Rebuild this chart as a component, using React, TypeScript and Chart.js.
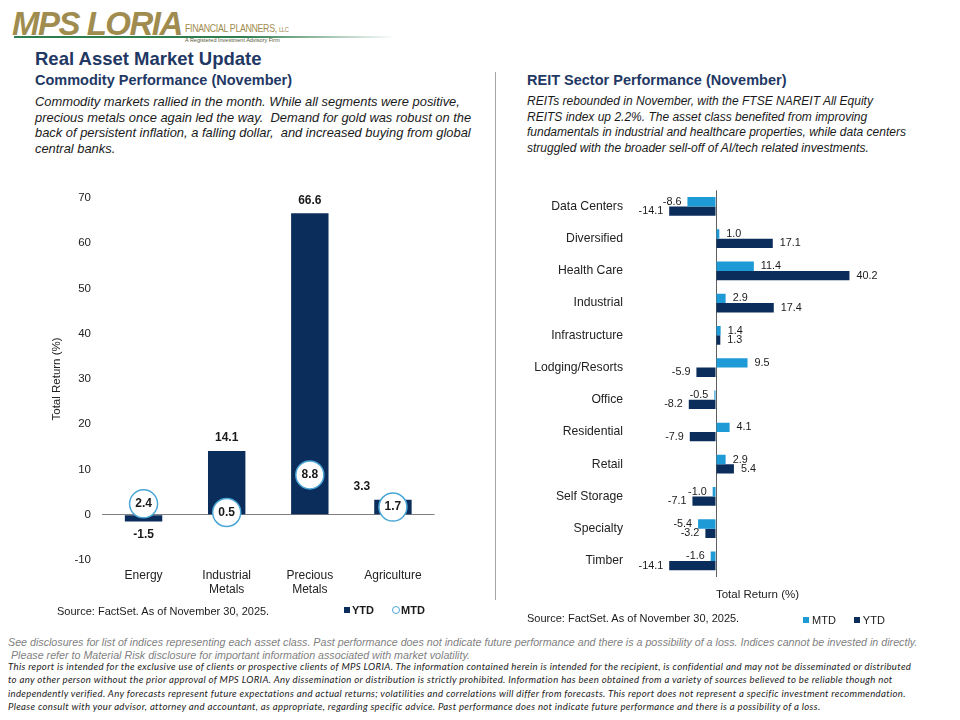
import React, { useEffect, useRef } from "react";
import { Chart, registerables } from "chart.js";

Chart.register(...registerables);

// ---------- Data ----------
const commodityCategories = [["Energy"], ["Industrial", "Metals"], ["Precious", "Metals"], ["Agriculture"]];
const commodityYTD = [-1.5, 14.1, 66.6, 3.3];
const commodityMTD = [2.4, 0.5, 8.8, 1.7];
const commodityTickMin = -10;
const commodityTickMax = 70;
const commodityTickStep = 10;

const reitCategories = [
  "Data Centers",
  "Diversified",
  "Health Care",
  "Industrial",
  "Infrastructure",
  "Lodging/Resorts",
  "Office",
  "Residential",
  "Retail",
  "Self Storage",
  "Specialty",
  "Timber",
];
const reitMTD = [-8.6, 1.0, 11.4, 2.9, 1.4, 9.5, -0.5, 4.1, 2.9, -1.0, -5.4, -1.6];
const reitYTD = [-14.1, 17.1, 40.2, 17.4, 1.3, -5.9, -8.2, -7.9, 5.4, -7.1, -3.2, -14.1];
const reitAxisMin = -25;
const reitAxisMax = 50;

// ---------- Styles ----------
const NAVY = "#0B2D5B";
const LIGHT = "#1E9AD6";
const CIRCLE = "#4AA6D6";
const TITLE = "#1F3864";
const FONT = "'Liberation Sans', Arial, sans-serif";

const commodityLabelPlugin = {
  id: "commodityLabels",
  afterDatasetsDraw(chart: any) {
    const ctx = chart.ctx;
    const bars = chart.getDatasetMeta(0).data;
    const pts = chart.getDatasetMeta(1).data;
    ctx.save();
    ctx.textAlign = "center";
    ctx.textBaseline = "middle";
    ctx.fillStyle = "#1a1a1a";
    ctx.font = `bold 12px ${FONT}`;
    bars.forEach((bar: any, i: number) => {
      const v = commodityYTD[i];
      const y = v >= 0 ? bar.y - 13 : bar.y + 13;
      let x = bar.x;
      if (Math.abs(y - pts[i].y) < 24) x -= 31;
      ctx.fillText(v.toFixed(1), x, y);
    });
    pts.forEach((p: any, i: number) => {
      ctx.fillText(commodityMTD[i].toFixed(1), p.x, p.y);
    });
    ctx.restore();
  },
};

const reitLabelPlugin = {
  id: "reitLabels",
  afterDatasetsDraw(chart: any) {
    const ctx = chart.ctx;
    ctx.save();
    ctx.textBaseline = "middle";
    ctx.fillStyle = "#1a1a1a";
    ctx.font = `10.8px ${FONT}`;
    [reitMTD, reitYTD].forEach((vals, di) => {
      chart.getDatasetMeta(di).data.forEach((bar: any, i: number) => {
        const v = vals[i];
        if (v >= 0) {
          ctx.textAlign = "left";
          ctx.fillText(v.toFixed(1), bar.x + 7, bar.y);
        } else {
          ctx.textAlign = "right";
          ctx.fillText(v.toFixed(1), bar.x - 6, bar.y);
        }
      });
    });
    ctx.restore();
  },
};

function CommodityChart() {
  const ref = useRef<HTMLCanvasElement>(null);
  useEffect(() => {
    const chart = new Chart(ref.current as HTMLCanvasElement, {
      type: "bar",
      data: {
        labels: commodityCategories as any,
        datasets: [
          {
            type: "bar",
            label: "YTD",
            data: commodityYTD,
            backgroundColor: NAVY,
            barPercentage: 0.9,
            categoryPercentage: 0.5,
            order: 1,
          } as any,
          {
            type: "line",
            label: "MTD",
            data: commodityMTD,
            showLine: false,
            pointRadius: 14,
            pointHoverRadius: 14,
            pointBackgroundColor: "#ffffff",
            pointBorderColor: CIRCLE,
            pointBorderWidth: 1.5,
            order: 0,
          } as any,
        ],
      },
      options: {
        animation: false,
        responsive: false,
        maintainAspectRatio: false,
        layout: { padding: { top: 17, right: 10, left: 0, bottom: 0 } },
        plugins: { legend: { display: false }, tooltip: { enabled: false } },
        scales: {
          x: {
            grid: { display: false, drawTicks: false },
            border: { display: false },
            ticks: { color: "#222", font: { family: FONT, size: 12 }, padding: 8, maxRotation: 0 },
            afterFit: (s: any) => {
              s.height = 45;
            },
          },
          y: {
            min: commodityTickMin,
            max: commodityTickMax,
            ticks: { stepSize: commodityTickStep, color: "#222", font: { family: FONT, size: 11.5 }, padding: 11 },
            grid: {
              drawTicks: false,
              color: (c: any) => (c.tick && c.tick.value === 0 ? "#7f7f7f" : "rgba(0,0,0,0)"),
              lineWidth: 1,
            },
            border: { display: false },
            title: {
              display: true,
              text: "Total Return (%)",
              color: "#222",
              font: { family: FONT, size: 11.5 },
              padding: { top: 10, bottom: 0 },
            },
            afterFit: (s: any) => {
              s.width = 62;
            },
          },
        },
      },
      plugins: [commodityLabelPlugin],
    });
    return () => chart.destroy();
  }, []);
  return <canvas ref={ref} width={410} height={425} style={{ position: "absolute", left: 40, top: 180, width: 410, height: 425 }} />;
}

function ReitChart() {
  const ref = useRef<HTMLCanvasElement>(null);
  useEffect(() => {
    const chart = new Chart(ref.current as HTMLCanvasElement, {
      type: "bar",
      data: {
        labels: reitCategories,
        datasets: [
          { label: "MTD", data: reitMTD, backgroundColor: LIGHT, barPercentage: 1.0, categoryPercentage: 0.58 },
          { label: "YTD", data: reitYTD, backgroundColor: NAVY, barPercentage: 1.0, categoryPercentage: 0.58 },
        ],
      },
      options: {
        indexAxis: "y",
        animation: false,
        responsive: false,
        maintainAspectRatio: false,
        layout: { padding: { top: 4, right: 18, left: 0, bottom: 0 } },
        plugins: { legend: { display: false }, tooltip: { enabled: false } },
        scales: {
          x: {
            min: reitAxisMin,
            max: reitAxisMax,
            ticks: { display: false, stepSize: 25 },
            grid: {
              drawTicks: false,
              color: (c: any) => (c.tick && c.tick.value === 0 ? "#5f5f5f" : "rgba(0,0,0,0)"),
            },
            border: { display: false },
            title: {
              display: true,
              text: "Total Return (%)",
              color: "#222",
              font: { family: FONT, size: 11.5 },
              padding: { top: 8, bottom: 5 },
            },
            afterFit: (s: any) => {
              s.height = 30;
            },
          },
          y: {
            grid: { display: false, drawTicks: false },
            border: { display: false },
            ticks: { color: "#222", font: { family: FONT, size: 12.2 }, padding: 10 },
            afterFit: (s: any) => {
              s.width = 113;
            },
          },
        },
      },
      plugins: [reitLabelPlugin],
    });
    return () => chart.destroy();
  }, []);
  return <canvas ref={ref} width={380} height={434} style={{ position: "absolute", left: 520, top: 173, width: 380, height: 434 }} />;
}

const abs = (left: number, top: number, extra: React.CSSProperties = {}): React.CSSProperties => ({
  position: "absolute",
  left,
  top,
  whiteSpace: "nowrap",
  ...extra,
});

export default function App() {
  const para: React.CSSProperties = { fontFamily: FONT, fontStyle: "italic", fontSize: 12, lineHeight: "15.6px", color: "#1a1a1a" };
  const h2: React.CSSProperties = { fontFamily: FONT, fontWeight: "bold", fontSize: 14.5, lineHeight: "16px", color: TITLE };
  const disc: React.CSSProperties = {
    fontFamily: "Lato, 'Open Sans', sans-serif",
    fontStyle: "italic",
    fontSize: 9.6,
    letterSpacing: 0.32,
    lineHeight: "13.3px",
    color: "#222",
  };
  return (
    <div style={{ position: "fixed", left: 0, top: 0, width: 960, height: 720, background: "#fff", overflow: "hidden" }}>
      {/* Logo */}
      <div style={abs(12, 6, { fontFamily: FONT, fontWeight: "bold", fontStyle: "italic", fontSize: 33, lineHeight: "36px", color: "#A08C4F", letterSpacing: -1.5 })}>MPS LORIA</div>
      <div style={abs(185, 22, { fontFamily: FONT, fontSize: 10.5, lineHeight: "12px", color: "#A08C4F", letterSpacing: -0.4, transform: "scaleX(0.84)", transformOrigin: "left center" })}>
        FINANCIAL PLANNERS, <span style={{ fontSize: 7 }}>LLC</span>
      </div>
      <div style={abs(185, 37, { fontFamily: FONT, fontSize: 5.5, lineHeight: "7px", color: "#5a5a3a" })}>A Registered Investment Advisory Firm</div>
      <div style={{ position: "absolute", left: 14, top: 35.5, width: 382, height: 2, background: "linear-gradient(to right, #2E7D4F 0%, #2E7D4F 60%, rgba(46,125,79,0) 100%)" }} />

      {/* Titles */}
      <div style={abs(35, 48, { fontFamily: FONT, fontWeight: "bold", fontSize: 18.5, lineHeight: "22px", color: TITLE })}>Real Asset Market Update</div>
      <div style={abs(35, 72, h2)}>Commodity Performance (November)</div>
      <div style={abs(35, 94, { ...para, fontSize: 12.9 })}>
        Commodity markets rallied in the month. While all segments were positive,
        <br />
        precious metals once again led the way.&nbsp; Demand for gold was robust on the
        <br />
        back of persistent inflation, a falling dollar,&nbsp; and increased buying from global
        <br />
        central banks.
      </div>

      <div style={abs(527, 72, h2)}>REIT Sector Performance (November)</div>
      <div style={abs(527, 94, para)}>
        REITs rebounded in November, with the FTSE NAREIT All Equity
        <br />
        REITS index up 2.2%. The asset class benefited from improving
        <br />
        fundamentals in industrial and healthcare properties, while data centers
        <br />
        struggled with the broader sell-off of AI/tech related investments.
      </div>

      {/* Divider */}
      <div style={{ position: "absolute", left: 495, top: 72, width: 1, height: 528, background: "#A6A6A6" }} />

      <CommodityChart />
      <ReitChart />

      {/* Left footer: source and legend */}
      <div style={abs(57, 604, { fontFamily: FONT, fontSize: 11, lineHeight: "14px", color: "#1a1a1a" })}>Source: FactSet. As of November 30, 2025.</div>
      <div style={abs(344, 603, { fontFamily: FONT, fontSize: 11, fontWeight: "bold", lineHeight: "14px", color: "#1a1a1a", display: "flex", alignItems: "center" })}>
        <span style={{ display: "inline-block", width: 6, height: 6, background: NAVY, marginRight: 2 }} />
        YTD
        <span style={{ display: "inline-block", width: 6, height: 6, borderRadius: 4, border: `1.3px solid ${CIRCLE}`, marginLeft: 18, marginRight: 1 }} />
        MTD
      </div>

      {/* Right footer: source and legend */}
      <div style={abs(527, 611, { fontFamily: FONT, fontSize: 11, lineHeight: "14px", color: "#1a1a1a" })}>Source: FactSet. As of November 30, 2025.</div>
      <div style={abs(803, 613, { fontFamily: FONT, fontSize: 11, lineHeight: "14px", color: "#1a1a1a", display: "flex", alignItems: "center" })}>
        <span style={{ display: "inline-block", width: 6, height: 6, background: LIGHT, marginRight: 3 }} />
        MTD
        <span style={{ display: "inline-block", width: 6, height: 6, background: NAVY, marginLeft: 18, marginRight: 3 }} />
        YTD
      </div>

      {/* Disclosures */}
      <div style={abs(8, 636, { fontFamily: FONT, fontStyle: "italic", fontSize: 10.7, lineHeight: "13px", color: "#7f7f7f" })}>
        See disclosures for list of indices representing each asset class. Past performance does not indicate future performance and there is a possibility of a loss. Indices cannot be invested in directly.
        <br />
        &nbsp;Please refer to Material Risk disclosure for important information associated with market volatility.
      </div>
      <div style={abs(8, 660, disc)}>
        This report is intended for the exclusive use of clients or prospective clients of MPS LORIA. The information contained herein is intended for the recipient, is confidential and may not be disseminated or distributed
        <br />
        to any other person without the prior approval of MPS LORIA. Any dissemination or distribution is strictly prohibited. Information has been obtained from a variety of sources believed to be reliable though not
        <br />
        independently verified. Any forecasts represent future expectations and actual returns; volatilities and correlations will differ from forecasts. This report does not represent a specific investment recommendation.
        <br />
        Please consult with your advisor, attorney and accountant, as appropriate, regarding specific advice. Past performance does not indicate future performance and there is a possibility of a loss.
      </div>
    </div>
  );
}
